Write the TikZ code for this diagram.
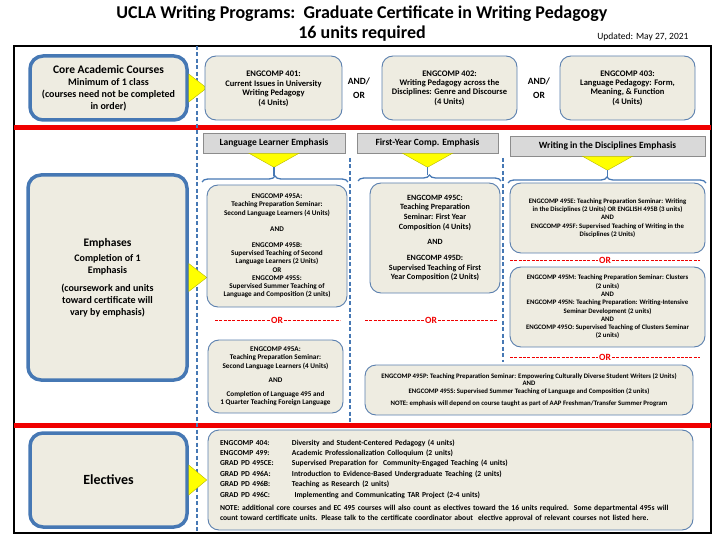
\documentclass[tikz,border=0pt]{standalone}
\usepackage{fontspec}
\setmainfont{Carlito}
\usetikzlibrary{calc,decorations.pathreplacing}
\definecolor{beige}{HTML}{EEECE1}
\definecolor{bbord}{HTML}{4678B4}
\definecolor{cbord}{HTML}{5A7FAE}
\definecolor{hdrgray}{HTML}{D9D9D9}
\definecolor{hdrline}{HTML}{8C8C8C}
\definecolor{ucred}{HTML}{F00000}
\definecolor{triy}{HTML}{FFFF00}
\definecolor{triline}{HTML}{B8B800}
\begin{document}
\begin{tikzpicture}[x=1pt,y=-1pt,
  bigbox/.style={draw=bbord, line width=3.5pt, fill=beige, rounded corners=13pt, align=center, font=\bfseries, inner sep=0pt},
  course/.style={draw=cbord, line width=0.9pt, fill=beige, rounded corners=11pt, align=center, font=\bfseries\fontsize{8.5}{9.4}\selectfont, inner sep=0pt},
  hdr/.style={draw=hdrline, line width=0.6pt, fill=hdrgray, align=center, font=\bfseries\fontsize{9.5}{10}\selectfont, inner sep=0pt, minimum height=20pt},
  tri/.style={fill=triy, draw=triline, line width=0.4pt},
  stem/.style={draw=bbord, line width=1.3pt},
  brc/.style={draw=bbord, line width=1.3pt, decorate, decoration={brace, amplitude=6pt}},
  vdash/.style={draw=bbord, line width=1.3pt, dash pattern=on 4pt off 2.5pt},
  ortext/.style={text=ucred, font=\bfseries\fontsize{9.5}{10}\selectfont, inner sep=1pt},
  ordash/.style={draw=ucred, line width=0.9pt, dash pattern=on 3pt off 1.3pt},
  redline/.style={draw=ucred, line width=5pt},
  andor/.style={font=\bfseries\fontsize{9.5}{14}\selectfont, align=center}
]
\useasboundingbox (0,0) rectangle (720,540);

% title
\node[font=\bfseries\fontsize{18}{18}\selectfont] (t1) at (362,14) {UCLA Writing Programs:\ \ Graduate Certificate in Writing Pedagogy};
\node[font=\bfseries\fontsize{18}{18}\selectfont] (t2) at (362,34) {16 units required};
\node[font=\fontsize{9.5}{10}\selectfont, anchor=east] (upd) at (692,37) {Updated: May 27, 2021};

% frame, separators
\draw[line width=2pt] (14,46) rectangle (711,533);
\draw[redline] (14,128) -- (711,128);
\draw[redline] (14,425) -- (711,425);
\draw[vdash] (197,46) -- (197,533);
\draw[vdash] (350,158) -- (350,422);
\draw[vdash] (503,158) -- (503,362);

% core row
\node[bigbox, minimum width=157pt, minimum height=64pt] (core) at (108.5,88)
 {\fontsize{11.5}{12.7}\selectfont Core Academic Courses\\ Minimum of 1 class\\ \fontsize{10}{12.7}\selectfont (courses need not be completed\\ in order)};
\filldraw[tri] ($(core.east)+(0,-14)$) -- ($(core.east)+(18,0)$) -- ($(core.east)+(0,14)$) -- cycle;

\node[course, minimum width=137pt, minimum height=64pt] (c401) at (273.5,88)
 {\\[-2pt]ENGCOMP 401:\\ Current Issues in University\\ Writing Pedagogy\\ (4 Units)};
\node[andor] (ao1) at (359,88) {AND/\\OR};
\node[course, minimum width=135pt, minimum height=64pt] (c402) at (449.5,88)
 {ENGCOMP 402:\\ Writing Pedagogy across the\\ Disciplines: Genre and Discourse\\ (4 Units)};
\node[andor] (ao2) at (539,88) {AND/\\OR};
\node[course, minimum width=135pt, minimum height=64pt] (c403) at (627.5,88)
 {ENGCOMP 403:\\ Language Pedagogy: Form,\\ Meaning, \& Function\\ (4 Units)};

% emphases row
\node[bigbox, minimum width=159pt, minimum height=205pt] (emph) at (107.5,277.5)
 {\fontsize{11.5}{14}\selectfont Emphases\\[3pt] Completion of 1\\ Emphasis\\[6pt] (coursework and units\\ toward certificate will\\ vary by emphasis)};
\filldraw[tri] ($(emph.east)+(0,-14)$) -- ($(emph.east)+(18,0)$) -- ($(emph.east)+(0,14)$) -- cycle;

\node[hdr, minimum width=142pt] (hLL) at (274,143) {Language Learner Emphasis};
\node[hdr, minimum width=141pt] (hFY) at (427.5,143) {First-Year Comp. Emphasis};
\node[hdr, minimum width=195pt] (hWD) at (607.5,146) {Writing in the Disciplines Emphasis};

\foreach \h/\sx/\bl/\br/\by in {hLL/274/202/348/182, hFY/427.5/358/501/181, hWD/607.5/508/706/183}{
  \filldraw[tri] ($(\h.south)+(-25,0)$) -- ($(\h.south)+(0,14)$) -- ($(\h.south)+(25,0)$) -- cycle;
  \draw[brc] (\bl,\by) -- (\br,\by);
  \draw[stem] ($(\h.south)+(0,14)$) -- (\sx,{\by-6});
}

\node[course, minimum width=140pt, minimum height=122pt, font=\bfseries\fontsize{7.2}{8.2}\selectfont] (ll1) at (277,246)
 {ENGCOMP 495A:\\ Teaching Preparation Seminar:\\ Second Language Learners (4 Units)\\[8pt] AND\\[8pt] ENGCOMP 495B:\\ Supervised Teaching of Second\\ Language Learners (2 Units)\\ OR\\ ENGCOMP 495S:\\ Supervised Summer Teaching of\\ Language and Composition (2 units)};
\node[ortext] (orLL) at (277,320) {OR};
\draw[ordash] (215,320) -- (orLL.west);
\draw[ordash] (orLL.east) -- (340,320);
\node[course, minimum width=135pt, minimum height=73pt, font=\bfseries\fontsize{7.2}{8.2}\selectfont] (ll2) at (275.5,376.5)
 {ENGCOMP 495A:\\ Teaching Preparation Seminar:\\ Second Language Learners (4 Units)\\[6pt] AND\\[6pt] Completion of Language 495 and\\ 1 Quarter Teaching Foreign Language};

\node[course, minimum width=130pt, minimum height=110pt, font=\bfseries\fontsize{8}{9.7}\selectfont] (fy) at (435,238)
 {ENGCOMP 495C:\\ Teaching Preparation\\ Seminar: First Year\\ Composition (4 Units)\\[6pt] AND\\[6pt] ENGCOMP 495D:\\ Supervised Teaching of First\\ Year Composition (2 Units)};
\node[ortext] (orFY) at (431,320) {OR};
\draw[ordash] (365,320) -- (orFY.west);
\draw[ordash] (orFY.east) -- (498,320);

\node[course, minimum width=195pt, minimum height=70pt, font=\bfseries\fontsize{6.8}{8.3}\selectfont] (wd1) at (607.5,218)
 {ENGCOMP 495E: Teaching Preparation Seminar: Writing\\ in the Disciplines (2 Units) OR ENGLISH 495B (3 units)\\ AND\\ ENGCOMP 495F: Supervised Teaching of Writing in the\\ Disciplines (2 Units)};
\node[ortext] (orW1) at (605,260) {OR};
\draw[ordash] (510,260) -- (orW1.west);
\draw[ordash] (orW1.east) -- (700,260);
\node[course, minimum width=195pt, minimum height=80pt, font=\bfseries\fontsize{6.8}{8.3}\selectfont] (wd2) at (607.5,307)
 {ENGCOMP 495M: Teaching Preparation Seminar: Clusters\\ (2 units)\\ AND\\ ENGCOMP 495N: Teaching Preparation: Writing-Intensive\\ Seminar Development (2 units)\\ AND\\ ENGCOMP 495O: Supervised Teaching of Clusters Seminar\\ (2 units)};
\node[ortext] (orW2) at (605,357) {OR};
\draw[ordash] (510,357) -- (orW2.west);
\draw[ordash] (orW2.east) -- (700,357);
\node[course, minimum width=328pt, minimum height=50pt, font=\bfseries\fontsize{6.8}{7.6}\selectfont] (p495) at (529,390)
 {ENGCOMP 495P: Teaching Preparation Seminar: Empowering Culturally Diverse Student Writers (2 Units)\\ AND\\ ENGCOMP 495S: Supervised Summer Teaching of Language and Composition (2 units)\\[5pt] NOTE: emphasis will depend on course taught as part of AAP Freshman/Transfer Summer Program};

% electives row
\node[bigbox, minimum width=157pt, minimum height=94pt] (elL) at (108.5,480)
 {\fontsize{14}{16}\selectfont Electives};
\filldraw[tri] ($(elL.east)+(0,-15)$) -- ($(elL.east)+(18,0)$) -- ($(elL.east)+(0,15)$) -- cycle;

\node[course, minimum width=485pt, minimum height=100pt, text width=461pt, inner xsep=12pt, align=left, font=\bfseries\fontsize{7.6}{10.4}\selectfont] (elec) at (450.5,480)
 {\begin{tabular}{@{}p{72pt}@{}l@{}}
ENGCOMP 404: & Diversity and Student-Centered Pedagogy (4 units)\\
ENGCOMP 499: & Academic Professionalization Colloquium (2 units)\\
GRAD PD 495CE: & Supervised Preparation for\ \ Community-Engaged Teaching (4 units)\\
GRAD PD 496A: & Introduction to Evidence-Based Undergraduate Teaching (2 units)\\
GRAD PD 496B: & Teaching as Research (2 units)\\
GRAD PD 496C: & \ Implementing and Communicating TAR Project (2-4 units)
\end{tabular}\\[4pt]
\fontsize{7.6}{10}\selectfont NOTE: additional core courses and EC 495 courses will also count as electives toward the 16 units required.\ \ Some departmental 495s will\\
count toward certificate units. Please talk to the certificate coordinator about\ \ elective approval of relevant courses not listed here.};
\end{tikzpicture}
\end{document}
